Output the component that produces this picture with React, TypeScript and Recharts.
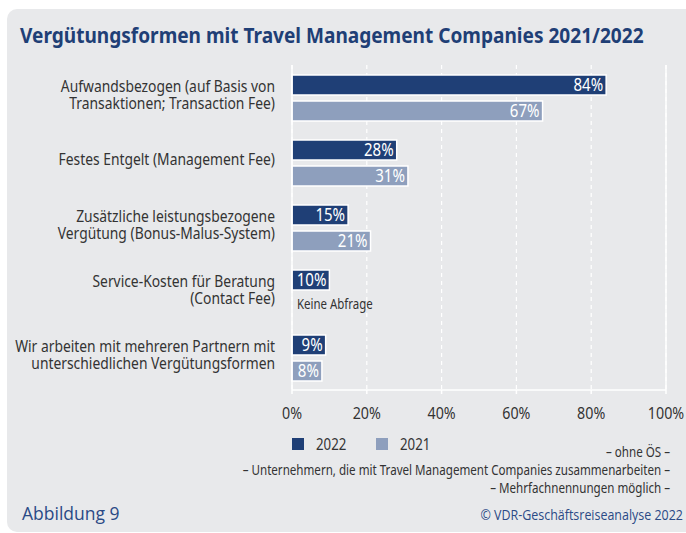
import React from 'react';
import { BarChart, Bar, XAxis, YAxis, CartesianGrid, LabelList, ReferenceLine } from 'recharts';

const categoryLines: string[][] = [
  ['Aufwandsbezogen (auf Basis von', 'Transaktionen; Transaction Fee)'],
  ['Festes Entgelt (Management Fee)'],
  ['Zusätzliche leistungsbezogene', 'Vergütung (Bonus-Malus-System)'],
  ['Service-Kosten für Beratung', '(Contact Fee)'],
  ['Wir arbeiten mit mehreren Partnern mit', 'unterschiedlichen Vergütungsformen'],
];
const values2022 = [84, 28, 15, 10, 9];
const values2021: (number | null)[] = [67, 31, 21, null, 8];
const xTicks = [0, 20, 40, 60, 80, 100];
const seriesNames = ['2022', '2021'];
const missingText = 'Keine Abfrage';
const title = 'Vergütungsformen mit Travel Management Companies 2021/2022';
const notes = [
  '– ohne ÖS –',
  '– Unternehmern, die mit Travel Management Companies zusammenarbeiten –',
  '– Mehrfachnennungen möglich –',
];
const figureLabel = 'Abbildung 9';
const sourceLabel = '© VDR-Geschäftsreiseanalyse 2022';

const data = categoryLines.map((lines, i) => ({
  name: lines.join(' '),
  v2022: values2022[i],
  v2021: values2021[i],
}));

const FONT = '"Noto Sans", sans-serif';
const WIDE = '"Open Sans", "Noto Sans", sans-serif';
const DARK = '#1F3F76';
const LIGHT = '#8E9FBD';
const PANEL = '#E8E9EB';
const TEXT = '#333333';
const BLUE = '#2B4A86';

const sx = (x: number, k: number) => `translate(${x} 0) scale(${k} 1) translate(${-x} 0)`;

const CategoryTick = (props: any) => {
  const { y, payload } = props;
  const idx = categoryLines.findIndex((l) => l.join(' ') === payload.value);
  const lines = categoryLines[idx] || [String(payload.value)];
  const lh = 16.5;
  const startBase = y - 3 + 6 - ((lines.length - 1) * lh) / 2;
  return (
    <g>
      {lines.map((l, i) => (
        <text key={i} x={275} y={startBase + i * lh} textAnchor="end" fill={TEXT} fontSize={17} fontFamily={FONT} transform={sx(275, 0.815)}>
          {l}
        </text>
      ))}
    </g>
  );
};

const XTick = (props: any) => {
  const { x, y, payload } = props;
  return (
    <text x={x} y={y + 11} textAnchor="middle" fill={TEXT} fontSize={17} fontFamily={FONT} transform={sx(x, 0.84)}>
      {`${payload.value}%`}
    </text>
  );
};

const ValueLabel = (props: any) => {
  const { x, y, width, height, value } = props;
  if (value == null) return null;
  const ex = x + width - 3;
  return (
    <text x={ex} y={y + height / 2 + 6} textAnchor="end" fill="#FFFFFF" fontSize={17.5} fontFamily={FONT} transform={sx(ex, 0.86)}>
      {`${value}%`}
    </text>
  );
};

const ValueLabel2022 = (props: any) => {
  const { x, y, height, index } = props;
  const missing = values2021[index] == null;
  const tx = x + 5;
  return (
    <g>
      <ValueLabel {...props} />
      {missing ? (
        <text x={tx} y={y + height + 6 + height / 2 + 3} fill={TEXT} fontSize={14.5} fontFamily={FONT} transform={sx(tx, 0.79)}>
          {missingText}
        </text>
      ) : null}
    </g>
  );
};

export default function App() {
  return (
    <div style={{ position: 'fixed', left: 0, top: 0, width: 686, height: 533, background: '#FFFFFF', overflow: 'hidden' }}>
      <div style={{ position: 'absolute', left: 7, top: 9, width: 700, height: 523, background: PANEL, borderRadius: 10 }} />
      <div style={{ position: 'absolute', left: 0, top: 0 }}>
        <BarChart
          width={686}
          height={533}
          data={data}
          layout="vertical"
          margin={{ top: 65, right: 20, bottom: 113, left: 0 }}
          barSize={20}
          barGap={6}
        >
          <CartesianGrid horizontal={false} stroke="#FFFFFF" strokeDasharray="4 4" strokeWidth={1.2} />
          <XAxis
            type="number"
            domain={[0, 100]}
            ticks={xTicks}
            axisLine={{ stroke: '#FFFFFF', strokeWidth: 1.5 }}
            tickLine={{ stroke: '#FFFFFF', strokeWidth: 1.5 }}
            tickSize={4}
            tickMargin={14}
            tick={<XTick />}
            height={30}
            interval={0}
          />
          <YAxis
            type="category"
            dataKey="name"
            width={292}
            axisLine={{ stroke: '#FFFFFF', strokeWidth: 1.5 }}
            tickLine={false}
            tick={<CategoryTick />}
            interval={0}
          />
          <ReferenceLine x={100} stroke="#FFFFFF" strokeWidth={1.5} />
          <Bar dataKey="v2022" name={seriesNames[0]} fill={DARK} stroke="#FFFFFF" strokeWidth={1.5} isAnimationActive={false}>
            <LabelList dataKey="v2022" content={<ValueLabel2022 />} />
          </Bar>
          <Bar dataKey="v2021" name={seriesNames[1]} fill={LIGHT} stroke="#FFFFFF" strokeWidth={1.5} isAnimationActive={false}>
            <LabelList dataKey="v2021" content={<ValueLabel />} />
          </Bar>
        </BarChart>
      </div>
      <svg width={686} height={533} style={{ position: 'absolute', left: 0, top: 0, pointerEvents: 'none' }}>
        <text x={20} y={43} fill={DARK} fontSize={22} fontWeight="bold" fontFamily={FONT} transform={sx(20, 0.867)}>{title}</text>
        <rect x={292} y={438} width={12} height={12} fill={DARK} />
        <text x={316} y={450} fill={TEXT} fontSize={17} fontFamily={FONT} transform={sx(316, 0.78)}>{seriesNames[0]}</text>
        <rect x={376} y={438} width={12} height={12} fill={LIGHT} />
        <text x={400} y={450} fill={TEXT} fontSize={17} fontFamily={FONT} transform={sx(400, 0.78)}>{seriesNames[1]}</text>
        {notes.map((n, i) => (
          <text key={i} x={670} y={457 + i * 18} textAnchor="end" fill={TEXT} fontSize={14.5} fontFamily={FONT} transform={sx(670, 0.80)}>{n}</text>
        ))}
        <text x={22} y={520} fill={BLUE} fontSize={17.5} fontFamily={WIDE}>{figureLabel}</text>
        <text x={683} y={520} textAnchor="end" fill={BLUE} fontSize={14} fontFamily={WIDE} transform={sx(683, 0.89)}>{sourceLabel}</text>
      </svg>
    </div>
  );
}
